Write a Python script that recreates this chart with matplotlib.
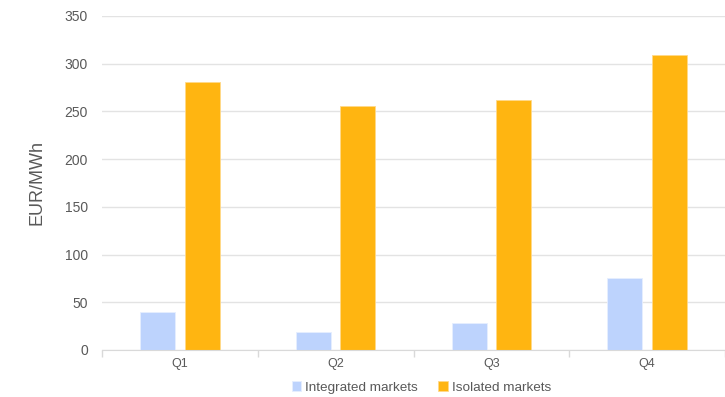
import numpy as np
import matplotlib.pyplot as plt

plt.rcParams['font.family'] = ['Liberation Sans', 'DejaVu Sans']

# Quarterly prices, EUR/MWh
quarters = ['Q1', 'Q2', 'Q3', 'Q4']
integrated = [40, 19, 28, 75]
isolated = [281, 256, 262, 309]

blue = '#bdd3fd'
orange = '#ffb511'
grey = '#595959'

fig = plt.figure(figsize=(7.25, 3.97), dpi=100)
ax = fig.add_axes([0.1407, 0.1184, 0.8593, 0.8413])

x = np.arange(len(quarters))
w = 0.224
off = 0.143
ax.bar(x - off, integrated, w, color=blue, edgecolor='#e6eeff', linewidth=0.6,
       label='Integrated markets', zorder=3)
ax.bar(x + off, isolated, w, color=orange, edgecolor='#ffd98a', linewidth=0.6,
       label='Isolated markets', zorder=3)

ax.set_xlim(-0.5, len(quarters) - 0.5)
ax.set_ylim(0, 350)
ax.set_yticks(range(0, 351, 50))
ax.grid(axis='y', color='#e3e3e3', linewidth=1, zorder=0)

# category ticks sit on the boundaries between quarters
ax.set_xticks(x)
ax.set_xticklabels(quarters)
ax.set_xticks(np.arange(-0.5, len(quarters), 1), minor=True)
ax.tick_params(axis='x', which='major', length=0, pad=6, labelsize=9, labelcolor=grey)
ax.tick_params(axis='x', which='minor', length=5, color='#d9d9d9', width=1)
ax.tick_params(axis='y', length=0, pad=10, labelsize=10, labelcolor=grey)

for s in ['top', 'right', 'left']:
    ax.spines[s].set_visible(False)
ax.spines['bottom'].set_color('#d9d9d9')
ax.spines['bottom'].set_zorder(4)

ax.set_ylabel('EUR/MWh', fontsize=13, color=grey, labelpad=14)

ax.legend(loc='center', bbox_to_anchor=(0.513, -0.112), ncol=2, frameon=False,
          fontsize=9.7, labelcolor=grey, handlelength=0.7, handleheight=0.7,
          handletextpad=0.3, columnspacing=1.5, borderpad=0)

fig.savefig('out.png', dpi=100)
